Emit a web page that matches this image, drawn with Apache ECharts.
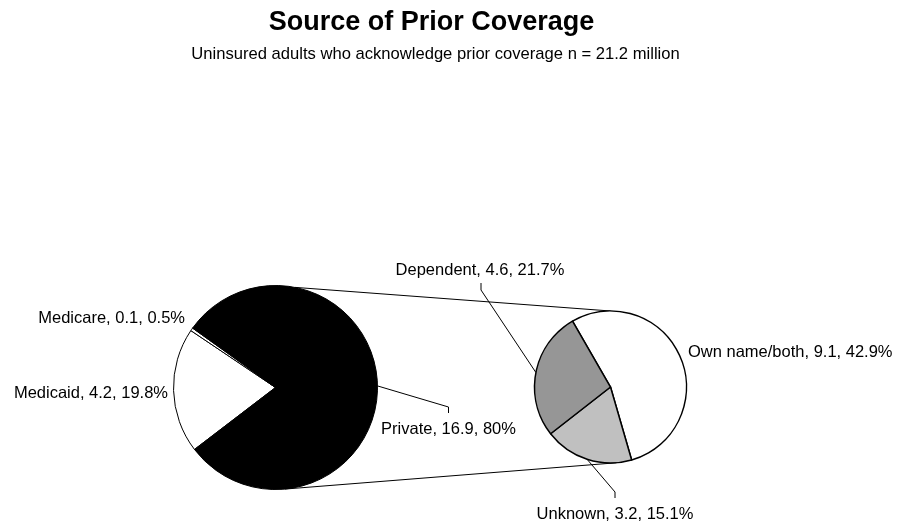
<!DOCTYPE html>
<html><head><meta charset="utf-8">
<script src="https://cdn.jsdelivr.net/npm/echarts@6/dist/echarts.min.js"></script>
<style>html,body{margin:0;padding:0;background:#fff}#main{width:901px;height:527px}</style>
</head><body><div id="main"></div>
<script>
// ---- data ----
const titleText = 'Source of Prior Coverage';
const subtitleText = 'Uninsured adults who acknowledge prior coverage n = 21.2 million';
const primaryNames = ['Medicaid', 'Medicare', 'Private'];
const primaryValues = [4.2, 0.1, 16.9];
const primaryPercents = ['19.8', '0.5', '80'];
const secondaryNames = ['Own name/both', 'Unknown', 'Dependent'];
const secondaryValues = [9.1, 3.2, 4.6];
const secondaryPercents = ['42.9', '15.1', '21.7'];

// ---- layout / style ----
const FONT = '"Liberation Sans", Arial, Helvetica, sans-serif';
const LP = {cx: 275.5, cy: 387.5, r: 102, start: 217.4};
const RP = {cx: 610.5, cy: 387, r: 76, start: 120};
const primaryColors = ['#ffffff', '#ffffff', '#000000'];
const secondaryColors = ['#ffffff', '#c0c0c0', '#969696'];
const primaryLabelPos = [
  {x: 168, y: 393, align: 'right'},
  {x: 185, y: 318.5, align: 'right'},
  {x: 448.5, y: 429.5, align: 'center', leader: 'top'}
];
const secondaryLabelPos = [
  {x: 688, y: 352.5, align: 'left'},
  {x: 615, y: 514.5, align: 'center', leader: 'top'},
  {x: 480, y: 270, align: 'center', leader: 'bottom'}
];

function edgePoint(p, deg) {
  const a = deg * Math.PI / 180;
  return [p.cx + p.r * Math.cos(a), p.cy - p.r * Math.sin(a)];
}
function midAngle(p, values, idx) {
  const total = values.reduce((s, v) => s + v, 0);
  let cum = 0;
  for (let i = 0; i < idx; i++) cum += values[i];
  return p.start - (cum + values[idx] / 2) / total * 360;
}
function makeData(names, values, colors, pos) {
  return names.map((n, i) => ({
    name: n,
    value: values[i],
    itemStyle: {color: colors[i]},
    labelLine: {show: !!pos[i].leader}
  }));
}
function makeLayout(p, values, pos) {
  return function (params) {
    const c = pos[params.dataIndex];
    const out = {x: c.x, y: c.y, align: c.align, verticalAlign: 'middle'};
    if (c.leader) {
      const s = edgePoint(p, midAngle(p, values, params.dataIndex));
      const lx = c.x + (c.leader === 'bottom' ? 1 : 0);
      const bend = c.leader === 'top' ? [lx, c.y - 22.5] : [lx, c.y + 20];
      const end = c.leader === 'top' ? [lx, c.y - 16.5] : [lx, c.y + 13];
      out.labelLinePoints = [s, bend, end];
    }
    return out;
  };
}
function makeSeries(p, names, values, percents, colors, pos, bw) {
  return {
    type: 'pie',
    center: [p.cx, p.cy],
    radius: p.r,
    startAngle: p.start,
    clockwise: true,
    avoidLabelOverlap: false,
    silent: true,
    animation: false,
    itemStyle: {borderColor: '#000', borderWidth: bw},
    label: {
      show: true,
      position: 'outside',
      color: '#000',
      fontFamily: FONT,
      fontSize: 16.5,
      formatter: (d) => d.name + ', ' + d.value + ', ' + percents[d.dataIndex] + '%'
    },
    labelLine: {show: true, length: 10, length2: 10, lineStyle: {color: '#000', width: 1}},
    labelLayout: makeLayout(p, values, pos),
    emphasis: {disabled: true},
    data: makeData(names, values, colors, pos)
  };
}

const topA = edgePoint(LP, 79), topB = edgePoint(RP, 90);
const botA = edgePoint(LP, -84.7), botB = edgePoint(RP, -85.5);

const chart = echarts.init(document.getElementById('main'), null, {renderer: 'canvas'});
chart.setOption({
  backgroundColor: '#ffffff',
  animation: false,
  title: [
    {
      text: titleText,
      left: 426.5,
      top: 4.5,
      textAlign: 'center',
      textStyle: {fontFamily: FONT, fontSize: 27, fontWeight: 'bold', color: '#000'}
    },
    {
      text: subtitleText,
      left: 430.5,
      top: 41,
      textAlign: 'center',
      textStyle: {fontFamily: FONT, fontSize: 16.6, fontWeight: 'normal', color: '#000'}
    }
  ],
  graphic: [
    {type: 'line', shape: {x1: topA[0], y1: topA[1], x2: topB[0], y2: topB[1]}, style: {stroke: '#000', lineWidth: 1}},
    {type: 'line', shape: {x1: botA[0], y1: botA[1], x2: botB[0], y2: botB[1]}, style: {stroke: '#000', lineWidth: 1}}
  ],
  series: [
    makeSeries(LP, primaryNames, primaryValues, primaryPercents, primaryColors, primaryLabelPos, 1),
    makeSeries(RP, secondaryNames, secondaryValues, secondaryPercents, secondaryColors, secondaryLabelPos, 1.5)
  ]
});
</script>
</body></html>
